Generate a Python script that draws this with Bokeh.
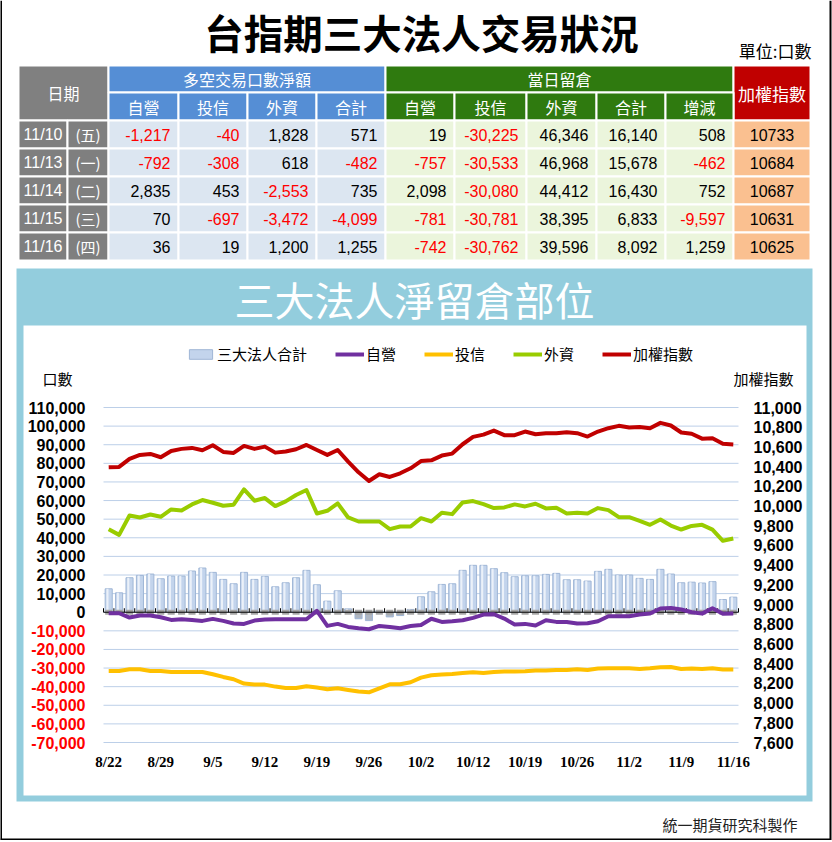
from bokeh.plotting import figure
from bokeh.models import Range1d, Legend, LegendItem, ColumnDataSource
from bokeh.embed import file_html
from bokeh.resources import INLINE
from bokeh.core.properties import value
from bokeh.transform import dodge

# ---------------- table data ----------------
table_dates = ["11/10", "11/13", "11/14", "11/15", "11/16"]
table_weekdays = ["(五)", "(一)", "(二)", "(三)", "(四)"]
net_dealer = [-1217, -792, 2835, 70, 36]
net_trust = [-40, -308, 453, -697, 19]
net_foreign = [1828, 618, -2553, -3472, 1200]
net_total = [571, -482, 735, -4099, 1255]
oi_dealer = [19, -757, 2098, -781, -742]
oi_trust = [-30225, -30533, -30080, -30781, -30762]
oi_foreign = [46346, 46968, 44412, 38395, 39596]
oi_total = [16140, 15678, 16430, 6833, 8092]
oi_change = [508, -462, 752, -9597, 1259]
taiex_table = [10733, 10684, 10687, 10631, 10625]

# ---------------- chart data ----------------
dates = ["8/22", "8/23", "8/24", "8/25", "8/28", "8/29", "8/30", "8/31",
         "9/1", "9/4", "9/5", "9/6", "9/7", "9/8", "9/11", "9/12", "9/13", "9/14", "9/15",
         "9/18", "9/19", "9/20", "9/21", "9/22", "9/25", "9/26", "9/27", "9/28", "9/29", "9/30",
         "10/2", "10/3", "10/5", "10/6", "10/11", "10/12", "10/13", "10/16", "10/17", "10/18",
         "10/19", "10/20", "10/23", "10/24", "10/25", "10/26", "10/27", "10/30", "10/31",
         "11/1", "11/2", "11/3", "11/6", "11/7", "11/8", "11/9", "11/10", "11/13", "11/14",
         "11/15", "11/16"]
series_total = [12590, 10430, 18530, 19790, 20510, 17990, 19430, 19430, 22130, 23750,
                21410, 17630, 15290, 21410, 17630, 19250, 13670, 15830, 18530, 22490,
                14750, 5940, 11510, 1800, -3500, -4500, 800, -2500, -1800, 1500,
                8280, 10970, 14930, 15290, 22490, 25190, 25190, 23390, 21230, 19070,
                19610, 19610, 20330, 20870, 17450, 17450, 16730, 21950, 23030, 19970,
                19970, 18170, 17630, 23030, 20510, 15830, 16140, 15678, 16430, 6833, 8092]
series_dealer = [-540, -540, -2870, -1790, -1790, -2690, -4120, -3760, -4120, -4660,
                 -3580, -4660, -6090, -6270, -4480, -3940, -3760, -3760, -3760, -3760,
                 720, -7350, -6270, -7890, -8600, -9140, -7350, -7890, -8600, -7440,
                 -6900, -3500, -5200, -4840, -4300, -3050, -1250, -1100, -3410, -6630,
                 -6270, -7170, -4300, -5200, -5200, -6090, -5910, -4840, -2150, -2150,
                 -2150, -1250, -720, 1970, 2330, 1430, 19, -757, 2098, -781, -742]
series_trust = [-31540, -31540, -30640, -30640, -31540, -31540, -32080, -32080, -32080, -32080,
                -33330, -34770, -36020, -38350, -38890, -38890, -39960, -40680, -40680, -39780,
                -40500, -41400, -40860, -41750, -42650, -43010, -40860, -38710, -38710, -37630,
                -35120, -33870, -33510, -33150, -32610, -32260, -32610, -32080, -31900, -31900,
                -31720, -31360, -31360, -31000, -31000, -30640, -31000, -30290, -30110, -30110,
                -30110, -30460, -30110, -29570, -29390, -30460, -30225, -30533, -30080, -30781, -30762]
series_foreign = [44620, 41560, 51990, 50910, 52530, 51270, 55230, 54690, 57930, 60270,
                  58830, 57210, 57750, 66020, 59910, 61350, 57030, 59550, 62970, 65660,
                  53070, 54510, 58470, 50910, 48750, 48750, 48750, 44620, 46050, 46050,
                  50550, 48750, 53430, 52710, 59010, 59730, 58110, 55950, 56310, 57930,
                  56850, 58290, 55770, 56130, 53070, 53430, 53070, 55950, 54870, 51090,
                  51090, 49110, 46950, 49830, 46590, 44440, 46346, 46968, 44412, 38395, 39596]
series_taiex = [10393, 10397, 10478, 10519, 10529, 10495, 10559, 10580, 10590, 10566,
                10617, 10549, 10539, 10610, 10580, 10603, 10542, 10553, 10576, 10620,
                10569, 10519, 10569, 10451, 10342, 10254, 10322, 10295, 10332, 10383,
                10456, 10464, 10512, 10532, 10627, 10702, 10725, 10766, 10719, 10719,
                10756, 10729, 10739, 10739, 10749, 10739, 10705, 10756, 10790, 10814,
                10797, 10803, 10790, 10844, 10817, 10746, 10733, 10684, 10687, 10631, 10625]

left_ticks = list(range(-70000, 110001, 10000))
right_ticks = list(range(7600, 11001, 200))
x_label_every = 5

# ---------------- styles / layout (pixels) ----------------
CJK = "Noto Sans CJK TC"
SANS = "Liberation Sans"
SERIF = "Liberation Serif"
PANEL = "#93CDDD"
C_DEALER, C_TRUST, C_FOREIGN, C_TAIEX = "#7030A0", "#FFC000", "#99CC00", "#C00000"
CW, CH = 832, 840
PLOT_L, PLOT_R, PLOT_T, PLOT_B = 103, 738, 407, 742

n = len(dates)
xs = list(range(n))

idx_per_px = n / (PLOT_R - PLOT_L)
lots_per_px = (left_ticks[-1] - left_ticks[0]) / (PLOT_B - PLOT_T)
taiex_per_px = (right_ticks[-1] - right_ticks[0]) / (PLOT_B - PLOT_T)

p = figure(width=CW, height=CH, x_range=Range1d(0, CW), y_range=Range1d(CH, 0), min_border=0,
           x_axis_location=None, y_axis_location=None, output_backend="svg",
           toolbar_location=None)
p.grid.visible = False
p.outline_line_color = None
p.background_fill_color = "white"
p.border_fill_color = "white"
p.extra_x_ranges = {"idx": Range1d(-0.5 - PLOT_L * idx_per_px,
                                   (n - 0.5) + (CW - PLOT_R) * idx_per_px)}
p.extra_y_ranges = {
    "lots": Range1d(left_ticks[0] - (CH - PLOT_B) * lots_per_px,
                    left_ticks[-1] + PLOT_T * lots_per_px),
    "taiex": Range1d(right_ticks[0] - (CH - PLOT_B) * taiex_per_px,
                     right_ticks[-1] + PLOT_T * taiex_per_px)}

# outer frame lines
p.segment(x0=[0.5, 830, 0], y0=[0, 0, 839], x1=[0.5, 830, 830], y1=[840, 840, 839],
          line_color="black", line_width=2)

# ================= title + table =================
p.text(x=[421], y=[31], text=["台指期三大法人交易狀況"], text_font=value(CJK),
       text_font_style="bold", text_font_size=value("39.5px"), text_color="black",
       text_align="center", text_baseline="middle")
p.text(x=[811], y=[50], text=["單位:口數"], text_font=value(CJK),
       text_font_size=value("17px"), text_color="black",
       text_align="right", text_baseline="middle")

cols = [18, 67, 108, 178, 247, 316, 385, 454, 526, 596, 665, 733, 810]
h0, h1, h2 = 65, 92, 120
row_h = 28

L, R, T, B, C = [], [], [], [], []


def cell(l, r, t, b, c):
    L.append(l); R.append(r); T.append(t); B.append(b); C.append(c)


BLUE, GREEN, GRAY, RED = "#558ED5", "#2F7A0F", "#808080", "#C00000"
cell(cols[0], cols[2], h0, h2, GRAY)
cell(cols[2], cols[6], h0, h1, BLUE)
cell(cols[6], cols[11], h0, h1, GREEN)
cell(cols[11], cols[12], h0, h2, RED)
for k in range(2, 6):
    cell(cols[k], cols[k + 1], h1, h2, BLUE)
for k in range(6, 11):
    cell(cols[k], cols[k + 1], h1, h2, GREEN)
for r_i in range(len(table_dates)):
    t = h2 + r_i * row_h
    b = t + row_h
    cell(cols[0], cols[1], t, b, "#7F7F7F")
    cell(cols[1], cols[2], t, b, "#7F7F7F")
    for k in range(2, 6):
        cell(cols[k], cols[k + 1], t, b, "#DCE6F1")
    for k in range(6, 11):
        cell(cols[k], cols[k + 1], t, b, "#EBF5DC")
    cell(cols[11], cols[12], t, b, "#FAC090")
p.quad(left=L, right=R, top=T, bottom=B, fill_color=C, line_color="white", line_width=2)

hx = [(cols[0] + cols[2]) / 2, (cols[2] + cols[6]) / 2, (cols[6] + cols[11]) / 2]
hy = [(h0 + h2) / 2, (h0 + h1) / 2, (h0 + h1) / 2]
ht = ["日期", "多空交易口數淨額", "當日留倉"]
sub = ["自營", "投信", "外資", "合計", "自營", "投信", "外資", "合計", "增減"]
for k, s in enumerate(sub):
    hx.append((cols[k + 2] + cols[k + 3]) / 2)
    hy.append((h1 + h2) / 2)
    ht.append(s)
p.text(x=hx, y=hy, text=ht, text_font=value(CJK), text_font_size=value("16px"),
       text_color="white", text_align="center", text_baseline="middle")
p.text(x=[(cols[11] + cols[12]) / 2], y=[(h0 + h2) / 2], text=["加權指數"],
       text_font=value(CJK), text_font_size=value("17px"), text_color="white",
       text_align="center", text_baseline="middle")

ycent = [h2 + r_i * row_h + row_h / 2 for r_i in range(len(table_dates))]
p.text(x=[(cols[0] + cols[1]) / 2] * len(ycent), y=ycent, text=table_dates,
       text_font=value(SANS), text_font_size=value("16px"), text_color="white",
       text_align="center", text_baseline="middle")
p.text(x=[(cols[1] + cols[2]) / 2] * len(ycent), y=ycent, text=table_weekdays,
       text_font=value(CJK), text_font_size=value("15px"), text_color="white",
       text_align="center", text_baseline="middle")
num_cols = [net_dealer, net_trust, net_foreign, net_total,
            oi_dealer, oi_trust, oi_foreign, oi_total, oi_change]
nx, ny, nt, nc = [], [], [], []
for k, col in enumerate(num_cols):
    for r_i, v in enumerate(col):
        nx.append(cols[k + 3] - 8)
        ny.append(ycent[r_i])
        nt.append(f"{v:,}")
        nc.append("#FF0000" if v < 0 else "black")
p.text(x=nx, y=ny, text=nt, text_font=value(SANS), text_font_size=value("16px"),
       text_color=nc, text_align="right", text_baseline="middle")
p.text(x=[(cols[11] + cols[12]) / 2] * len(ycent), y=ycent, text=[str(v) for v in taiex_table],
       text_font=value(SANS), text_font_size=value("16px"), text_color="black",
       text_align="center", text_baseline="middle")

# ================= chart panel =================
p.quad(left=[16], right=[812], top=[268], bottom=[801], fill_color=PANEL, line_color=None)
p.quad(left=[23], right=[806], top=[325], bottom=[795], fill_color="white", line_color=None)
p.text(x=[414], y=[298], text=["三大法人淨留倉部位"], text_font=value(CJK),
       text_font_size=value("40px"), text_color="white", text_align="center",
       text_baseline="middle")

# grid lines
p.segment(x0=[-0.5] * len(left_ticks), x1=[n - 0.5] * len(left_ticks),
          y0=left_ticks, y1=left_ticks, line_color="#BCCFE8", line_width=1,
          x_range_name="idx", y_range_name="lots")

# bars
bar_src = ColumnDataSource(dict(
    x=xs, top=series_total,
    fill=["#C3D4EC" if v >= 0 else "#AEB6C2" for v in series_total],
    hl=[0.85 if v >= 0 else 0.0 for v in series_total]))
bar_r = p.vbar(x="x", top="top", bottom=0, width=0.68, source=bar_src,
               fill_color="fill", line_color="#9FB6D6", line_width=1,
               x_range_name="idx", y_range_name="lots")
p.vbar(x=dodge("x", -0.12), top="top", bottom=0, width=0.2, source=bar_src,
       fill_color="#F2F6FB", fill_alpha="hl", line_color=None,
       x_range_name="idx", y_range_name="lots")
p.rect(x="x", y=0, width=0.68, height=5, height_units="screen", source=bar_src,
       fill_color="#A6A6A6", line_color=None, x_range_name="idx", y_range_name="lots")

# zero axis with category ticks
p.segment(x0=[-0.5], y0=[0], x1=[n - 0.5], y1=[0], line_color="black", line_width=1,
          x_range_name="idx", y_range_name="lots")
bounds = [i - 0.5 for i in range(n + 1)]
p.segment(x0=bounds, y0=[0] * len(bounds), x1=bounds, y1=[4 * lots_per_px] * len(bounds),
          line_color="black", line_width=1, x_range_name="idx", y_range_name="lots")

# lines
r_trust = p.line(xs, series_trust, line_color=C_TRUST, line_width=4, line_join="round",
                 x_range_name="idx", y_range_name="lots")
r_foreign = p.line(xs, series_foreign, line_color=C_FOREIGN, line_width=4, line_join="round",
                   x_range_name="idx", y_range_name="lots")
r_dealer = p.line(xs, series_dealer, line_color=C_DEALER, line_width=4, line_join="round",
                  x_range_name="idx", y_range_name="lots")
r_taiex = p.line(xs, series_taiex, line_color=C_TAIEX, line_width=4, line_join="round",
                 x_range_name="idx", y_range_name="taiex")

# tick labels
p.text(x=[PLOT_L - 18] * len(left_ticks), y=left_ticks, text=[f"{t:,}" for t in left_ticks],
       text_color=["#FF0000" if t < 0 else "black" for t in left_ticks],
       text_font=value(SANS), text_font_style="bold", text_font_size=value("16px"),
       text_align="right", text_baseline="middle", y_range_name="lots")
p.text(x=[PLOT_R + 15] * len(right_ticks), y=right_ticks, text=[f"{t:,}" for t in right_ticks],
       text_color="black", text_font=value(SANS), text_font_style="bold",
       text_font_size=value("16px"), text_align="left", text_baseline="middle",
       y_range_name="taiex")
lab_idx = list(range(0, n, x_label_every))
p.text(x=lab_idx, y=[PLOT_B + 19] * len(lab_idx), text=[dates[i] for i in lab_idx],
       text_color="black", text_font=value(SERIF), text_font_style="bold",
       text_font_size=value("15px"), text_align="center", text_baseline="middle",
       x_range_name="idx")

# axis titles
p.text(x=[42], y=[378], text=["口數"], text_font=value(CJK), text_font_size=value("15px"),
       text_color="black", text_align="left", text_baseline="middle")
p.text(x=[733], y=[378], text=["加權指數"], text_font=value(CJK), text_font_size=value("15px"),
       text_color="black", text_align="left", text_baseline="middle")

legend = Legend(items=[LegendItem(label="三大法人合計", renderers=[bar_r]),
                       LegendItem(label="自營", renderers=[r_dealer]),
                       LegendItem(label="投信", renderers=[r_trust]),
                       LegendItem(label="外資", renderers=[r_foreign]),
                       LegendItem(label="加權指數", renderers=[r_taiex])],
                orientation="horizontal", location=(186, CH - 364), glyph_width=29,
                glyph_height=12, label_standoff=2, spacing=28, padding=0, margin=0,
                label_height=16, label_text_font=CJK, label_text_font_size="15px",
                label_text_color="black", border_line_color=None, background_fill_alpha=0)
p.add_layout(legend)

# footer
p.text(x=[797], y=[824], text=["統一期貨研究科製作"], text_font=value(CJK),
       text_font_size=value("15px"), text_color="#222222", text_align="right",
       text_baseline="middle")

open("out.html", "w").write(file_html(p, INLINE))
